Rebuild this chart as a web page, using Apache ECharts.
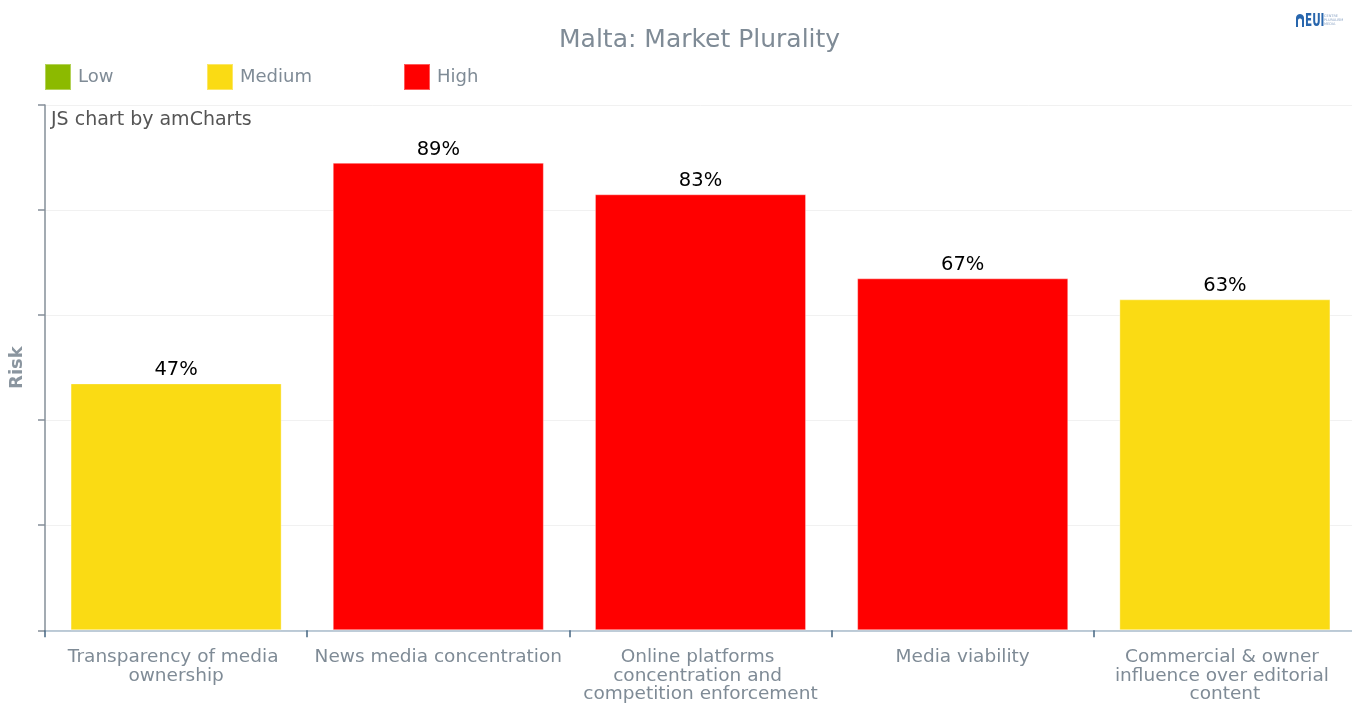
<!DOCTYPE html>
<html>
<head>
<meta charset="utf-8">
<title>Malta: Market Plurality</title>
<script src="https://cdn.jsdelivr.net/npm/echarts@6/dist/echarts.min.js"></script>
<style>
  html, body { margin: 0; padding: 0; background: #ffffff; overflow: hidden; }
  /* the plot area runs a few pixels past the right edge, clipped by the frame */
  #frame { position: relative; width: 1352px; height: 704px; overflow: hidden; }
  #chart { position: absolute; left: 0; top: 0; width: 1356px; height: 704px; }
</style>
</head>
<body>
<div id="frame"><div id="chart"></div></div>
<script>
// Market Plurality indicators for Malta, risk score in percent
const categories = [
  'Transparency of media ownership',
  'News media concentration',
  'Online platforms concentration and competition enforcement',
  'Media viability',
  'Commercial & owner influence over editorial content'
];
const riskValues = [47, 89, 83, 67, 63];
const riskLevels = ['Medium', 'High', 'High', 'High', 'Medium'];
const levelNames = ['Low', 'Medium', 'High'];
const levelColors = { Low: '#8cba00', Medium: '#fadb14', High: '#ff0000' };

const FONT = 'Verdana, "DejaVu Sans", sans-serif';
const GREY = '#7f8b96';

// One stacked series per risk level; each category only holds its own level's value
const series = levelNames.map(level => ({
  name: level,
  type: 'bar',
  stack: 'risk',
  barWidth: '80.5%',
  itemStyle: { color: levelColors[level], borderColor: 'rgba(255,255,255,0.35)', borderWidth: 1 },
  label: {
    show: true,
    position: 'top',
    distance: 3,
    color: '#000000',
    fontFamily: FONT,
    fontSize: 19.5,
    formatter: p => p.value + '%'
  },
  data: riskValues.map((v, i) => riskLevels[i] === level ? v : '-')
}));

// Legend entries placed on their own, as a row of swatches
const legendLefts = [39, 201, 398];
const legends = levelNames.map((name, i) => ({
  data: [name],
  left: legendLefts[i],
  top: 58,
  itemWidth: 26,
  itemHeight: 26,
  itemGap: 0,
  icon: 'rect',
  selectedMode: false,
  textStyle: { color: GREY, fontFamily: FONT, fontSize: 18, padding: [0, 0, 0, 2] }
}));

// Arch outline for the small logo mark (outer arch, then inner opening)
function archPoints() {
  const pts = [[0, 13], [0, 4]];
  for (let a = 180; a <= 360; a += 15) {
    const r = a * Math.PI / 180;
    pts.push([4 + 4 * Math.cos(r), 4 + 4 * Math.sin(r)]);
  }
  pts.push([8, 13], [6, 13], [6, 6.5]);
  for (let a = 360; a >= 180; a -= 15) {
    const r = a * Math.PI / 180;
    pts.push([4 + 2 * Math.cos(r), 6.5 + 2 * Math.sin(r)]);
  }
  pts.push([2, 13]);
  return pts;
}

const chart = echarts.init(document.getElementById('chart'), null, { renderer: 'canvas' });
chart.setOption({
  animation: false,
  backgroundColor: '#ffffff',
  title: {
    text: 'Malta: Market Plurality',
    left: 554,
    top: 23,
    textStyle: { color: GREY, fontFamily: FONT, fontSize: 25, fontWeight: 'normal' }
  },
  legend: legends,
  grid: { left: 44, top: 105, right: 0, bottom: 71, containLabel: false },
  xAxis: {
    type: 'category',
    data: categories,
    axisLine: { show: true, lineStyle: { color: '#a9bccb', width: 1.5 } },
    axisTick: { show: true, alignWithLabel: false, length: 7, lineStyle: { color: '#456581', width: 1.5 } },
    axisLabel: {
      interval: 0,
      margin: 18,
      color: GREY,
      fontFamily: FONT,
      fontSize: 18.5,
      lineHeight: 18.5,
      width: 255,
      overflow: 'break',
      align: 'center',
      verticalAlign: 'top'
    },
    splitLine: { show: false }
  },
  yAxis: {
    type: 'value',
    min: 0,
    max: 100,
    interval: 20,
    name: 'Risk',
    nameLocation: 'middle',
    nameRotate: 90,
    nameGap: 19,
    nameTextStyle: { color: '#8a959f', fontFamily: FONT, fontSize: 18, fontWeight: 'bold' },
    axisLine: { show: true, lineStyle: { color: '#858f99', width: 1.5 } },
    axisTick: { show: true, length: 7, lineStyle: { color: '#858f99', width: 1.5 } },
    axisLabel: { show: false },
    splitLine: { show: true, lineStyle: { color: '#f1f1f1', width: 1 } }
  },
  series: series,
  graphic: [
    {
      type: 'text',
      left: 51,
      top: 111,
      style: { text: 'JS chart by amCharts', fill: '#555555', font: '19px ' + FONT }
    },
    {
      type: 'group',
      left: 1296,
      top: 12,
      children: [
        {
          type: 'polygon',
          shape: { points: archPoints() },
          style: { fill: '#2866ad' }
        },
        {
          type: 'text',
          x: 9,
          y: -2,
          scaleX: 0.58,
          style: { text: 'EUI', fill: '#2866ad', font: 'bold 18px "DejaVu Sans", sans-serif' }
        },
        {
          type: 'text',
          x: 28,
          y: 0,
          style: { text: 'CENTRE\nPLURALISM\nMEDIA', fill: '#8aa3c4', font: '3.5px "DejaVu Sans", sans-serif', lineHeight: 4 }
        }
      ]
    }
  ]
});
</script>
</body>
</html>
